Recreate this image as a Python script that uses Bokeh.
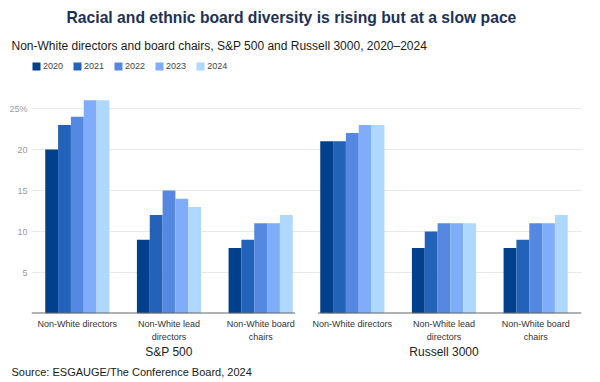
from bokeh.plotting import figure
from bokeh.models import (ColumnDataSource, FactorRange, Range1d, FixedTicker, Legend, LegendItem,
                          Title, CategoricalAxis)
from bokeh.transform import dodge
from bokeh.embed import file_html
from bokeh.resources import INLINE

groups = ["S&P 500", "Russell 3000"]
categories = ["Non-White directors", "Non-White lead\ndirectors", "Non-White board\nchairs"]
years = ["2020", "2021", "2022", "2023", "2024"]
colors = ["#023f8c", "#2263b9", "#5589e1", "#80adfa", "#aed8fe"]

sp500 = {
    "2020": [20, 9, 8],
    "2021": [23, 12, 9],
    "2022": [24, 15, 11],
    "2023": [26, 14, 11],
    "2024": [26, 13, 12],
}
russell = {
    "2020": [21, 8, 8],
    "2021": [21, 10, 9],
    "2022": [22, 11, 11],
    "2023": [23, 11, 11],
    "2024": [23, 11, 12],
}
y_ticks = [5, 10, 15, 20, 25]

title_text = "Racial and ethnic board diversity is rising but at a slow pace"
subtitle_text = "Non-White directors and board chairs, S&P 500 and Russell 3000, 2020\u20132024"
source_text = "Source: ESGAUGE/The Conference Board, 2024"

FONT = "Liberation Sans"
FRAME_H = 256

factors = [(g, c) for g in groups for c in categories]
data = {"x": factors}
for y in years:
    data[y] = sp500[y] + russell[y]
src = ColumnDataSource(data)

p = figure(frame_width=550, frame_height=FRAME_H, output_backend="svg", toolbar_location=None,
           title_location=None,
           x_range=FactorRange(*factors, group_padding=0, factor_padding=0, range_padding=0),
           y_range=Range1d(0, FRAME_H / 8.2),
           min_border_left=31, min_border_right=3, min_border_top=0, min_border_bottom=0)
p.outline_line_color = None
p.extra_x_ranges = {"grp": FactorRange(*groups, range_padding=0)}

bw = 0.14
renderers = []
for i, (y, c) in enumerate(zip(years, colors)):
    r = p.vbar(x=dodge("x", (i - 2) * bw, range=p.x_range), top=y, width=bw, source=src,
               fill_color=c, line_color=None)
    renderers.append(r)

# axis baseline with a gap between the two index groups
seg = ColumnDataSource(dict(
    x0=[[groups[0], categories[0], -0.5], [groups[1], categories[0], -0.375]],
    x1=[[groups[0], categories[-1], 0.375], [groups[1], categories[-1], 0.5]],
    y0=[0, 0], y1=[0, 0]))
p.segment(x0="x0", y0="y0", x1="x1", y1="y1", source=seg, line_color="#666666", line_width=2)

# y axis
p.yaxis.ticker = FixedTicker(ticks=y_ticks)
p.yaxis.major_label_overrides = {25: "25%"}
p.yaxis.axis_line_color = None
p.yaxis.major_tick_line_color = None
p.yaxis.major_tick_out = 0
p.yaxis.minor_tick_line_color = None
p.yaxis.major_label_text_color = "#9a9a9a"
p.yaxis.major_label_text_font_size = "9px"
p.yaxis.major_label_text_font = FONT
p.yaxis.major_label_standoff = 4
p.ygrid.grid_line_color = "#e8e8e8"
p.xgrid.grid_line_color = None

# x axis: category labels
xa = p.xaxis[0]
xa.axis_line_color = None
xa.major_tick_line_color = None
xa.major_tick_out = 0
xa.major_tick_in = 0
xa.separator_line_color = None
xa.major_label_text_font_size = "9px"
xa.major_label_text_font = FONT
xa.major_label_text_color = "#333333"
xa.major_label_text_line_height = 1.3
xa.major_label_standoff = 5
xa.major_label_orientation = "horizontal"
xa.group_text_font_size = "1px"
xa.group_text_color = None

# second axis: index group labels
ga = CategoricalAxis(x_range_name="grp", axis_line_color=None, major_tick_line_color=None,
                     minor_tick_line_color=None, major_tick_out=0, major_tick_in=0,
                     major_label_standoff=0, major_label_orientation="horizontal",
                     major_label_text_font=FONT, major_label_text_font_size="12px",
                     major_label_text_color="#222222")
p.add_layout(ga, "below")

# legend inside the (extended) frame, top-left
legend = Legend(items=[LegendItem(label=y, renderers=[r]) for y, r in zip(years, renderers)],
                orientation="horizontal", location=(0, FRAME_H - 14),
                glyph_width=10, glyph_height=10, label_height=10, label_width=18,
                label_standoff=2, spacing=9, padding=0, margin=0,
                label_text_font_size="9px", label_text_font=FONT, label_text_color="#444444",
                border_line_color=None, background_fill_alpha=0)
p.add_layout(legend)

# titles (subtitle added first: it sits closest to the frame)
p.add_layout(Title(text=subtitle_text, align="left", offset=-20, standoff=9,
                   text_font=FONT, text_font_size="12px", text_font_style="normal",
                   text_color="#1a1a1a"), "above")
p.add_layout(Title(text=title_text, align="left", offset=35, standoff=13,
                   text_font=FONT, text_font_size="15.7px", text_font_style="bold",
                   text_color="#1c3257"), "above")
p.add_layout(Title(text=source_text, align="left", offset=-20, standoff=4,
                   text_font=FONT, text_font_size="11px", text_font_style="normal",
                   text_color="#1a1a1a"), "below")

open("out.html", "w").write(file_html(p, INLINE))
